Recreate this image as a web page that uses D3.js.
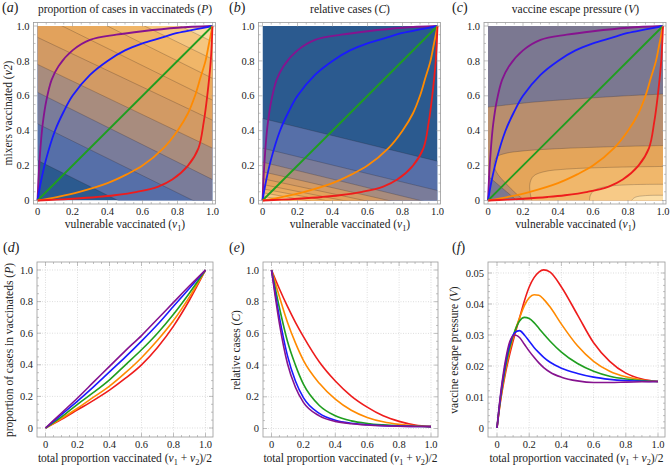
<!DOCTYPE html>
<html>
<head>
<meta charset="utf-8">
<script src="https://cdn.jsdelivr.net/npm/d3@7"></script>
<style>
body { margin: 0; background: #fff; }
svg text { fill: #222; }
</style>
</head>
<body>
<svg id="chart" width="672" height="470" font-family="'Liberation Serif', 'Times New Roman', 'DejaVu Serif', serif"></svg>
<script>
// ---- data ----

// top row: vaccination strategies as (v1, v2) curves
var purpleV1 = [0, 0.005, 0.01, 0.02, 0.03, 0.05, 0.08, 0.12, 0.2, 0.3, 0.45, 0.6, 0.8, 1];
var purpleV2 = [0, 0.11, 0.2, 0.34, 0.44, 0.57, 0.69, 0.77, 0.86, 0.92, 0.95, 0.97, 0.99, 1];
var blueV1 = [0, 0.02, 0.05, 0.1, 0.15, 0.2, 0.3, 0.4, 0.5, 0.6, 0.7, 0.8, 0.9, 1];
var blueV2 = [0, 0.11, 0.24, 0.4, 0.51, 0.6, 0.72, 0.8, 0.86, 0.9, 0.93, 0.96, 0.98, 1];
var greenV1 = [0, 1];
var greenV2 = [0, 1];
var orangeV1 = [0, 0.11, 0.24, 0.4, 0.51, 0.6, 0.72, 0.8, 0.86, 0.9, 0.93, 0.96, 0.98, 1];
var orangeV2 = [0, 0.02, 0.05, 0.1, 0.15, 0.2, 0.3, 0.4, 0.5, 0.6, 0.7, 0.8, 0.9, 1];
var redV1 = [0, 0.11, 0.2, 0.34, 0.44, 0.57, 0.69, 0.77, 0.86, 0.92, 0.95, 0.97, 0.99, 1];
var redV2 = [0, 0.005, 0.01, 0.02, 0.03, 0.05, 0.08, 0.12, 0.2, 0.3, 0.45, 0.6, 0.8, 1];

// (a) contour lines of P: v2 where each line meets v1 = 0 and v1 = 1
var pLeft = [0.23, 0.44, 0.62, 0.78, 0.935, 1.07, 1.2, 1.3, 1.4];
var pRight = [-0.27, -0.055, 0.12, 0.3, 0.46, 0.575, 0.7, 0.81, 0.91];

// (b) contour lines of C, same idea
var cLeft = [0.47, 0.30, 0.22, 0.165, 0.125, 0.092, 0.067, 0.045, 0.024];
var cRight = [0.225, 0.057, -0.024, -0.064, -0.09, -0.108, -0.119, -0.135, -0.147];

// (c) contour lines of V, as [v1, v2] points
var vUpper = [[0, 0.535], [0.25, 0.563], [0.5, 0.582], [0.75, 0.598], [1, 0.61]];
var vCorner = [[0, 0.14], [0.165, 0]];
var vLevel2 = [[1, 0.315], [0.7, 0.308], [0.4, 0.297], [0.2, 0.284], [0.1, 0.27], [0.05, 0.25],
               [0.035, 0.21], [0.05, 0.16], [0.1, 0.1], [0.16, 0.04], [0.21, 0]];
var vLevel3 = [[1, 0.195], [0.7, 0.19], [0.45, 0.18], [0.32, 0.165], [0.26, 0.14], [0.24, 0.1],
               [0.24, 0.05], [0.25, 0]];
var vLevel4 = [[1, 0.093], [0.8, 0.09], [0.68, 0.08], [0.61, 0.06], [0.585, 0.03], [0.58, 0]];
var vLevel5 = [[1, 0.03], [0.9, 0.028], [0.84, 0.018], [0.82, 0]];

// (d) proportion of cases in vaccinateds vs total vaccinated
var totalD = [0, 0.1, 0.2, 0.3, 0.4, 0.5, 0.6, 0.7, 0.8, 0.9, 1];
var pPurple = [0, 0.095, 0.19, 0.29, 0.39, 0.49, 0.585, 0.69, 0.795, 0.9, 1];
var pBlue = [0, 0.085, 0.17, 0.26, 0.355, 0.45, 0.55, 0.655, 0.77, 0.885, 1];
var pGreen = [0, 0.07, 0.15, 0.225, 0.305, 0.4, 0.495, 0.6, 0.72, 0.855, 1];
var pOrange = [0, 0.06, 0.125, 0.195, 0.265, 0.35, 0.445, 0.555, 0.68, 0.83, 1];
var pRed = [0, 0.055, 0.115, 0.175, 0.24, 0.315, 0.4, 0.51, 0.645, 0.81, 1];

// (e) relative cases
var totalE = [0, 0.05, 0.1, 0.15, 0.2, 0.3, 0.4, 0.5, 0.6, 0.7, 0.8, 0.9, 1];
var cPurple = [1, 0.66, 0.41, 0.26, 0.165, 0.08, 0.045, 0.03, 0.022, 0.017, 0.014, 0.013, 0.012];
var cBlue = [1, 0.7, 0.46, 0.3, 0.195, 0.095, 0.052, 0.033, 0.024, 0.018, 0.015, 0.013, 0.012];
var cGreen = [1, 0.76, 0.55, 0.4, 0.28, 0.145, 0.08, 0.048, 0.032, 0.023, 0.017, 0.014, 0.012];
var cOrange = [1, 0.83, 0.67, 0.54, 0.43, 0.285, 0.185, 0.115, 0.07, 0.042, 0.026, 0.017, 0.012];
var cRed = [1, 0.88, 0.77, 0.67, 0.58, 0.42, 0.3, 0.205, 0.135, 0.08, 0.045, 0.022, 0.012];

// (f) vaccine escape pressure
var totalF = [0, 0.02, 0.05, 0.08, 0.11, 0.14, 0.17, 0.2, 0.23, 0.26, 0.29, 0.33, 0.4, 0.5, 0.6, 0.7, 0.8, 0.9, 1];
var vPurple = [0, 0.01, 0.021, 0.028, 0.030, 0.0292, 0.027, 0.0248, 0.0228, 0.021, 0.0195, 0.018, 0.0164, 0.0152, 0.0147, 0.0147, 0.0148, 0.0149, 0.015];
var vBlue = [0, 0.0095, 0.020, 0.0272, 0.0308, 0.0314, 0.030, 0.028, 0.026, 0.0243, 0.0228, 0.0212, 0.0193, 0.0176, 0.0164, 0.0157, 0.0153, 0.0151, 0.015];
var vGreen = [0, 0.009, 0.019, 0.0262, 0.0312, 0.0345, 0.0357, 0.0353, 0.034, 0.0322, 0.0303, 0.028, 0.0245, 0.0208, 0.0183, 0.0167, 0.0158, 0.0153, 0.015];
var vOrange = [0, 0.0085, 0.018, 0.0252, 0.031, 0.0355, 0.0395, 0.042, 0.043, 0.0428, 0.0415, 0.039, 0.0335, 0.0265, 0.0215, 0.0183, 0.0165, 0.0155, 0.015];
var vRed = [0, 0.008, 0.017, 0.024, 0.030, 0.0355, 0.041, 0.0455, 0.0485, 0.0503, 0.051, 0.0503, 0.0455, 0.0365, 0.0275, 0.0215, 0.0177, 0.0158, 0.015];

// ticks
var unitTicks = [0, 0.2, 0.4, 0.6, 0.8, 1];
var unitTickLabels = ["0", "0.2", "0.4", "0.6", "0.8", "1.0"];
var escTicks = [0, 0.01, 0.02, 0.03, 0.04, 0.05];
var escTickLabels = ["0", "0.01", "0.02", "0.03", "0.04", "0.05"];

// ---- styles ----
var lineColors = { purple: "#86138f", blue: "#1a1aff", green: "#1f9e1f", orange: "#ff8a00", red: "#ee1c1c" };
var bandColors = ["#2b5a8f", "#566fa8", "#7a7c9a", "#a88c7e", "#d29a64", "#e2a25c", "#e9aa5e", "#f0b669", "#f5c680", "#fadaa2"];
var escColors = ["#7b7891", "#b88e6e", "#e4a55a", "#f0b76b", "#f7ca87", "#fcdea6"];

var svg = d3.select("#chart");

function zip(a, b) { return a.map(function(d, i) { return [d, b[i]]; }); }

// rich text: parts are [string, "i" | "sub" | ""]
function rich(t, parts) {
    var shift = 0;
    parts.forEach(function(p) {
        var s = t.append("tspan").text(p[0]);
        var want = p[1] === "sub" ? 2.6 : 0;
        if (want !== shift) { s.attr("dy", want - shift); shift = want; }
        if (p[1] === "i") s.attr("font-style", "italic");
        if (p[1] === "sub") s.attr("font-size", "0.72em");
    });
    return t;
}

// frame with inward ticks on all sides, Mathematica-ish
function drawFrame(g, x, y, fr, xt, xl, yt, yl, xMinor, yMinor, grid) {
    if (grid) {
        g.selectAll(".gx").data(xt).enter().append("line")
            .attr("x1", d => x(d)).attr("x2", d => x(d))
            .attr("y1", fr.top).attr("y2", fr.bottom)
            .attr("stroke", "#c8c8c8").attr("stroke-width", 0.6).attr("stroke-dasharray", "1,1.5");
        g.selectAll(".gy").data(yt).enter().append("line")
            .attr("y1", d => y(d)).attr("y2", d => y(d))
            .attr("x1", fr.left).attr("x2", fr.right)
            .attr("stroke", "#c8c8c8").attr("stroke-width", 0.6).attr("stroke-dasharray", "1,1.5");
    }
    g.append("rect")
        .attr("x", fr.left).attr("y", fr.top)
        .attr("width", fr.right - fr.left).attr("height", fr.bottom - fr.top)
        .attr("fill", "none").attr("stroke", "#9a9a9a").attr("stroke-width", 0.8);

    var tk = g.append("g").attr("stroke", "#9a9a9a").attr("stroke-width", 0.6);
    function xTicks(vals, len) {
        vals.forEach(function(v) {
            tk.append("line").attr("x1", x(v)).attr("x2", x(v)).attr("y1", fr.bottom).attr("y2", fr.bottom - len);
            tk.append("line").attr("x1", x(v)).attr("x2", x(v)).attr("y1", fr.top).attr("y2", fr.top + len);
        });
    }
    function yTicks(vals, len) {
        vals.forEach(function(v) {
            tk.append("line").attr("y1", y(v)).attr("y2", y(v)).attr("x1", fr.left).attr("x2", fr.left + len);
            tk.append("line").attr("y1", y(v)).attr("y2", y(v)).attr("x1", fr.right).attr("x2", fr.right - len);
        });
    }
    xTicks(xt, 4); yTicks(yt, 4);
    xTicks(xMinor, 2); yTicks(yMinor, 2);

    g.selectAll(".xl").data(xt).enter().append("text")
        .attr("x", d => x(d)).attr("y", fr.bottom + 11)
        .attr("text-anchor", "middle").attr("font-size", "10.5px")
        .text((d, i) => xl[i]);
    g.selectAll(".yl").data(yt).enter().append("text")
        .attr("x", fr.left - 4).attr("y", d => y(d)).attr("dy", "0.35em")
        .attr("text-anchor", "end").attr("font-size", "10.5px")
        .text((d, i) => yl[i]);
}

var minorUnit = d3.range(0, 1.0001, 0.05).filter(d => Math.abs(d * 5 - Math.round(d * 5)) > 1e-6);
var minorEsc = d3.range(0, 0.05001, 0.002).filter(d => Math.abs(d * 100 - Math.round(d * 100)) > 1e-6);

function panelLabel(x, y, letter) {
    var t = svg.append("text").attr("x", x).attr("y", y).attr("font-size", "14px");
    rich(t, [["(", ""], [letter, "i"], [")", ""]]);
}

// ---- top row: contour maps ----
var topPanels = [
    { id: "a", x0: 37.5, x1: 212.5, title: [["proportion of cases in vaccinateds (", ""], ["P", "i"], [")", ""]] },
    { id: "b", x0: 262.5, x1: 437.5, title: [["relative cases (", ""], ["C", "i"], [")", ""]] },
    { id: "c", x0: 488, x1: 663, title: [["vaccine escape pressure (", ""], ["V", "i"], [")", ""]] }
];

var strategies = [
    { v1: purpleV1, v2: purpleV2, c: lineColors.purple },
    { v1: blueV1, v2: blueV2, c: lineColors.blue },
    { v1: greenV1, v2: greenV2, c: lineColors.green },
    { v1: orangeV1, v2: orangeV2, c: lineColors.orange },
    { v1: redV1, v2: redV2, c: lineColors.red }
];

topPanels.forEach(function(p) {
    var x = d3.scaleLinear().domain([0, 1]).range([p.x0, p.x1]);
    var y = d3.scaleLinear().domain([0, 1]).range([200.5, 26]);
    var fr = { left: p.x0 - 4, right: p.x1 + 3, top: 22.5, bottom: 204 };
    var g = svg.append("g");

    g.append("clipPath").attr("id", "clip" + p.id)
        .append("rect").attr("x", x(0)).attr("y", y(1))
        .attr("width", x(1) - x(0)).attr("height", y(0) - y(1));
    var cg = g.append("g").attr("clip-path", "url(#clip" + p.id + ")");

    var line = d3.line().x(d => x(d[0])).y(d => y(d[1]));
    var smooth = d3.line().x(d => x(d[0])).y(d => y(d[1])).curve(d3.curveCatmullRom.alpha(0.5));
    var contourLines = [];

    if (p.id === "a") {
        cg.append("rect").attr("x", x(0)).attr("y", y(1)).attr("width", x(1) - x(0)).attr("height", y(0) - y(1))
            .attr("fill", bandColors[0]);
        pLeft.forEach(function(a, k) {
            var seg = [[0, a], [1, pRight[k]]];
            cg.append("path").attr("d", line(seg.concat([[1, 3], [0, 3]])) + "Z").attr("fill", bandColors[k + 1]);
            contourLines.push(line(seg));
        });
    } else if (p.id === "b") {
        cg.append("rect").attr("x", x(0)).attr("y", y(1)).attr("width", x(1) - x(0)).attr("height", y(0) - y(1))
            .attr("fill", bandColors[0]);
        cLeft.forEach(function(a, k) {
            var seg = [[0, a], [1, cRight[k]]];
            cg.append("path").attr("d", line(seg.concat([[1, -3], [0, -3]])) + "Z").attr("fill", bandColors[k + 1]);
            contourLines.push(line(seg));
        });
    } else {
        cg.append("rect").attr("x", x(0)).attr("y", y(1)).attr("width", x(1) - x(0)).attr("height", y(0) - y(1))
            .attr("fill", escColors[0]);
        cg.append("path")
            .attr("d", smooth(vUpper) + "L" + x(1) + "," + y(0) + "L" + x(vCorner[1][0]) + "," + y(vCorner[1][1]) +
                       "L" + x(vCorner[0][0]) + "," + y(vCorner[0][1]) + "Z")
            .attr("fill", escColors[1]);
        [vLevel2, vLevel3, vLevel4, vLevel5].forEach(function(lv, k) {
            cg.append("path").attr("d", smooth(lv) + "L" + x(1) + "," + y(0) + "Z").attr("fill", escColors[k + 2]);
            contourLines.push(smooth(lv));
        });
        contourLines.push(smooth(vUpper));
        contourLines.push(line(vCorner));
    }

    contourLines.forEach(function(d) {
        cg.append("path").attr("d", d).attr("fill", "none")
            .attr("stroke", "rgba(40,30,30,0.4)").attr("stroke-width", 0.6);
    });

    strategies.forEach(function(s) {
        g.append("path")
            .attr("d", smooth(zip(s.v1, s.v2)))
            .attr("fill", "none").attr("stroke", s.c).attr("stroke-width", 1.8);
    });

    drawFrame(g, x, y, fr, unitTicks, unitTickLabels, unitTicks, unitTickLabels, minorUnit, minorUnit, false);

    var cx = (p.x0 + p.x1) / 2;
    rich(svg.append("text").attr("x", cx).attr("y", 13).attr("text-anchor", "middle").attr("font-size", "11.5px"), p.title);
    rich(svg.append("text").attr("x", cx).attr("y", 228).attr("text-anchor", "middle").attr("font-size", "11.5px"),
        [["vulnerable vaccinated (", ""], ["v", "i"], ["1", "sub"], [")", ""]]);
});

panelLabel(2, 12, "a");
panelLabel(229, 12, "b");
panelLabel(452, 12, "c");

svg.append("text")
    .attr("transform", "translate(11.5," + 113 + ") rotate(-90)")
    .attr("text-anchor", "middle").attr("font-size", "11.5px")
    .call(t => rich(t, [["mixers vaccinated (", ""], ["v", "i"], ["2", "i"], [")", ""]]));

// ---- bottom row: along each strategy ----
var botPanels = [
    { id: "d", x0: 45.5, x1: 205.5, fl: 37, fr: 213, yDom: [0, 1], yR: [428, 270], t: totalD,
      series: [pRed, pOrange, pGreen, pBlue, pPurple], yt: unitTicks, yl: unitTickLabels, ym: minorUnit,
      ylab: [["proportion of cases in vaccinateds (", ""], ["P", "i"], [")", ""]], ylx: 13 },
    { id: "e", x0: 271.5, x1: 431, fl: 263, fr: 438, yDom: [0, 1], yR: [428.5, 270], t: totalE,
      series: [cRed, cOrange, cGreen, cBlue, cPurple], yt: unitTicks, yl: unitTickLabels, ym: minorUnit,
      ylab: [["relative cases (", ""], ["C", "i"], [")", ""]], ylx: 240 },
    { id: "f", x0: 497, x1: 658, fl: 488, fr: 665, yDom: [0, 0.05], yR: [428, 273], t: totalF,
      series: [vRed, vOrange, vGreen, vBlue, vPurple], yt: escTicks, yl: escTickLabels, ym: minorEsc,
      ylab: [["vaccine escape pressure (", ""], ["V", "i"], [")", ""]], ylx: 458 }
];
var botColors = [lineColors.red, lineColors.orange, lineColors.green, lineColors.blue, lineColors.purple];

botPanels.forEach(function(p) {
    var x = d3.scaleLinear().domain([0, 1]).range([p.x0, p.x1]);
    var y = d3.scaleLinear().domain(p.yDom).range(p.yR);
    var fr = { left: p.fl, right: p.fr, top: 262, bottom: 437 };
    var g = svg.append("g");

    drawFrame(g, x, y, fr, unitTicks, unitTickLabels, p.yt, p.yl, minorUnit, p.ym, true);

    var line = d3.line().x(d => x(d[0])).y(d => y(d[1])).curve(d3.curveMonotoneX);
    p.series.forEach(function(s, i) {
        g.append("path").attr("d", line(zip(p.t, s)))
            .attr("fill", "none").attr("stroke", botColors[i]).attr("stroke-width", 1.6);
    });

    rich(svg.append("text").attr("x", (p.fl + p.fr) / 2).attr("y", 462).attr("text-anchor", "middle").attr("font-size", "11.5px"),
        [["total proportion vaccinated (", ""], ["v", "i"], ["1", "sub"], [" + ", ""], ["v", "i"], ["2", "sub"], [")/2", ""]]);

    svg.append("text")
        .attr("transform", "translate(" + p.ylx + ",350) rotate(-90)")
        .attr("text-anchor", "middle").attr("font-size", "11.5px")
        .call(t => rich(t, p.ylab));
});

panelLabel(3, 252, "d");
panelLabel(229, 252, "e");
panelLabel(452, 252, "f");
</script>
</body>
</html>
